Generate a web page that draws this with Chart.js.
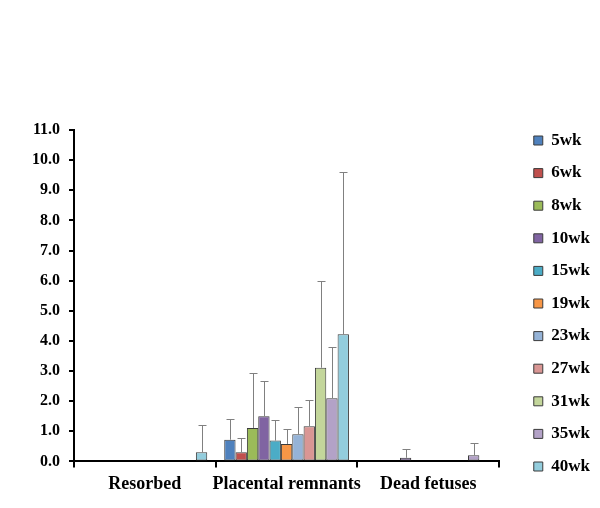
<!DOCTYPE html>
<html>
<head>
<meta charset="utf-8">
<script src="https://cdn.jsdelivr.net/npm/chart.js@4/dist/chart.umd.min.js"></script>
<style>
  html, body { margin: 0; padding: 0; background: #fff; }
  #wrap { width: 600px; height: 508px; }
</style>
</head>
<body>
<div id="wrap"><canvas id="grafico" width="600" height="508"></canvas></div>
<script>
// === Dados ===
const categories = ["Resorbed", "Placental remnants", "Dead fetuses"];
const weeks = ["5wk", "6wk", "8wk", "10wk", "15wk", "19wk", "23wk", "27wk", "31wk", "35wk", "40wk"];

// means per week, order = categories
const w5 = [null, 0.72, null];
const w6 = [null, 0.30, null];
const w8 = [null, 1.11, null];
const w10 = [null, 1.50, 0.12];
const w15 = [null, 0.69, null];
const w19 = [null, 0.58, null];
const w23 = [null, 0.90, null];
const w27 = [null, 1.17, null];
const w31 = [null, 3.11, null];
const w35 = [null, 2.10, 0.20];
const w40 = [0.30, 4.22, null];

// upper error (mean + sd) per week
const e5 = [null, 1.41, null];
const e6 = [null, 0.78, null];
const e8 = [null, 2.93, null];
const e10 = [null, 2.67, 0.42];
const e15 = [null, 1.39, null];
const e19 = [null, 1.08, null];
const e23 = [null, 1.80, null];
const e27 = [null, 2.03, null];
const e31 = [null, 6.00, null];
const e35 = [null, 3.81, 0.60];
const e40 = [1.20, 9.59, null];

const yTicks = [0, 1, 2, 3, 4, 5, 6, 7, 8, 9, 10, 11];

const values = [w5, w6, w8, w10, w15, w19, w23, w27, w31, w35, w40];
const errors = [e5, e6, e8, e10, e15, e19, e23, e27, e31, e35, e40];
const colors = ["#4F81BD", "#C0504D", "#9BBB59", "#8064A2", "#4BACC6", "#F79646",
                "#95B3D7", "#D99694", "#C3D69B", "#B3A2C7", "#93CDDD"];

const serif = "'Liberation Serif', 'Times New Roman', serif";

// === Barras de erro ===
const errorBars = {
  id: "errorBars",
  afterDatasetsDraw(chart) {
    const ctx = chart.ctx;
    const y = chart.scales.y;
    ctx.save();
    ctx.strokeStyle = "#808080";
    ctx.lineWidth = 1;
    chart.data.datasets.forEach((ds, i) => {
      const meta = chart.getDatasetMeta(i);
      meta.data.forEach((bar, j) => {
        const top = ds.errTop[j];
        if (top == null || ds.data[j] == null) return;
        const x = Math.round(bar.x) + 0.5;
        const y0 = bar.y;
        const y1 = Math.round(y.getPixelForValue(top)) + 0.5;
        ctx.beginPath();
        ctx.moveTo(x, y0);
        ctx.lineTo(x, y1);
        ctx.moveTo(x - 4, y1);
        ctx.lineTo(x + 4, y1);
        ctx.stroke();
      });
    });
    ctx.restore();
  }
};

// === Legenda um pouco deslocada (como no original) ===
const legendShift = {
  id: "legendShift",
  afterLayout(chart) {
    const lg = chart.legend;
    if (!lg) return;
    lg.left += 19; lg.right += 19;
    lg.top += 3; lg.bottom += 3;
  }
};

const datasets = weeks.map((w, i) => ({
  label: w,
  data: values[i],
  errTop: errors[i],
  backgroundColor: colors[i],
  borderColor: "#3b3b3b",
  borderWidth: 1,
  borderSkipped: false,
  categoryPercentage: 0.88,
  barPercentage: 1.0,
}));

new Chart(document.getElementById("grafico").getContext("2d"), {
  type: "bar",
  data: { labels: categories, datasets },
  plugins: [errorBars, legendShift],
  options: {
    responsive: false,
    animation: false,
    layout: { padding: { top: 100, left: 23, right: 19, bottom: 7 } },
    plugins: {
      tooltip: { enabled: false },
      // espaço vazio acima da área do gráfico
      title: { display: true, text: "", fullSize: false, padding: { top: 0, bottom: 15.6 } },
      legend: {
        position: "right",
        labels: {
          boxWidth: 9,
          boxHeight: 9,
          padding: 15.6,
          color: "#000",
          font: { family: serif, size: 17, weight: "bold" },
        },
      },
    },
    scales: {
      x: {
        grid: { display: true, drawOnChartArea: false, color: "#000", tickLength: 6, lineWidth: 2 },
        border: { color: "#000", width: 2 },
        ticks: {
          color: "#000", padding: 6, maxRotation: 0, minRotation: 0, autoSkip: false,
          font: { family: serif, size: 18, weight: "bold" },
        },
      },
      y: {
        min: yTicks[0],
        max: yTicks[yTicks.length - 1],
        afterBuildTicks: (s) => { s.ticks = yTicks.map(v => ({ value: v })); },
        grid: { display: true, drawOnChartArea: false, color: "#000", tickLength: 5, lineWidth: 2 },
        border: { color: "#000", width: 2 },
        ticks: {
          color: "#000",
          padding: 9,
          font: { family: serif, size: 16, weight: "bold" },
          callback: (v) => Number(v).toFixed(1),
        },
      },
    },
  },
});
</script>
</body>
</html>
